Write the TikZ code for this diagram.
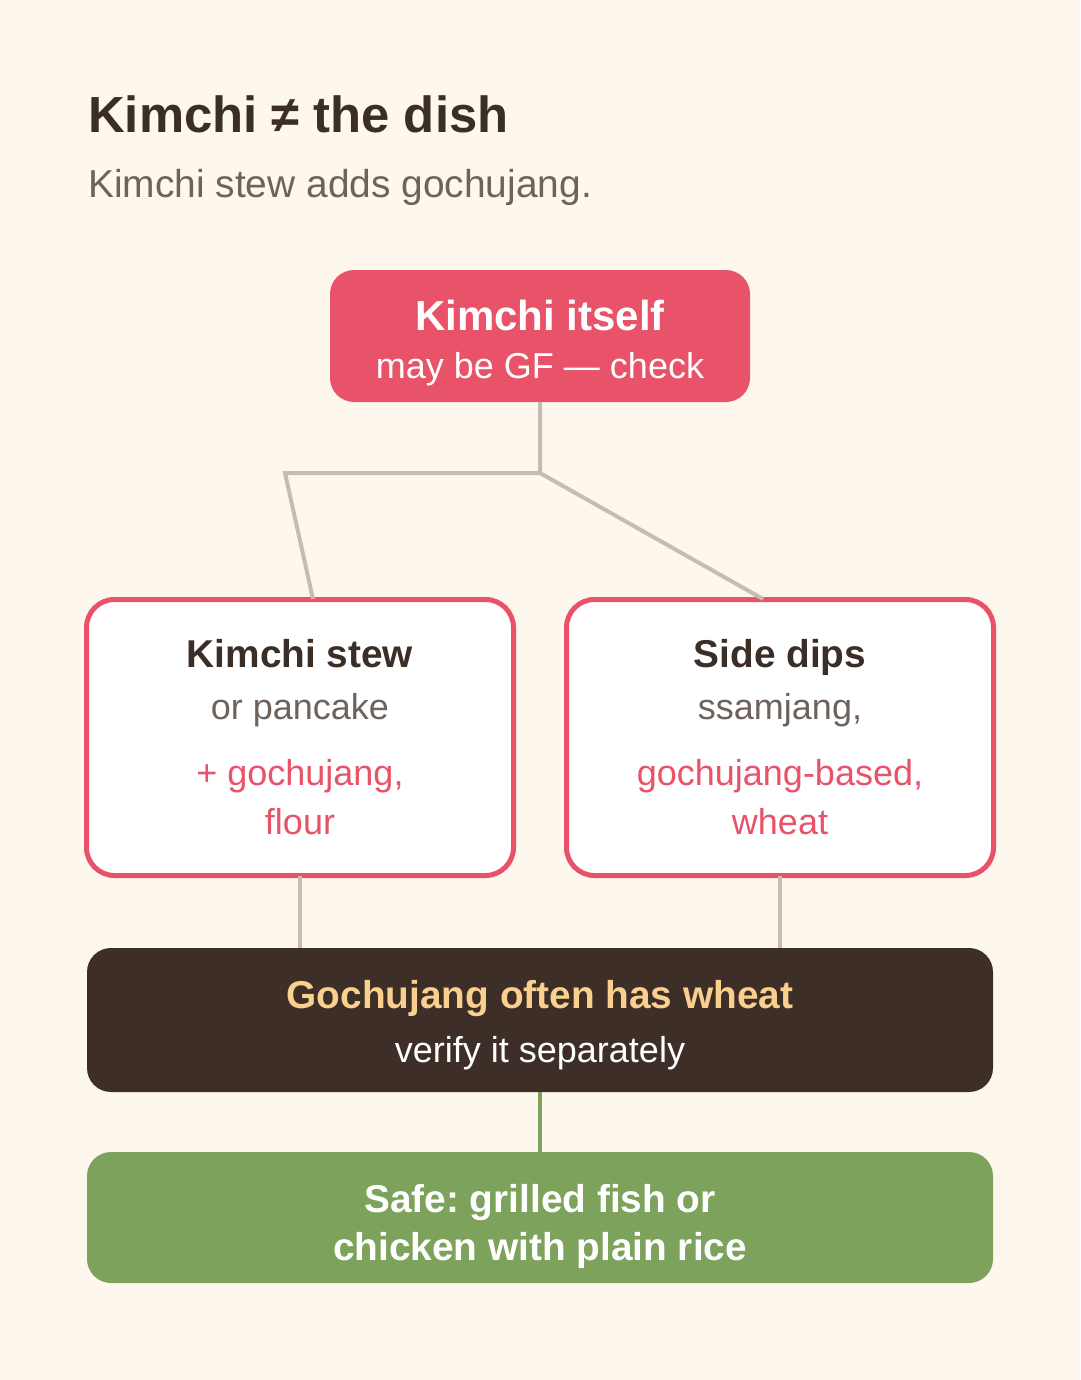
\documentclass[tikz,border=0pt]{standalone}
\usepackage{fontspec}
\setmainfont{Liberation Sans}
\frenchspacing
\definecolor{bg}{HTML}{FDF7EE}
\definecolor{ink}{HTML}{3B2E26}
\definecolor{subtext}{HTML}{6E625A}
\definecolor{rose}{HTML}{E8536A}
\definecolor{wire}{HTML}{C9BCAE}
\definecolor{darkbox}{HTML}{3D2F28}
\definecolor{gold}{HTML}{FAD08E}
\definecolor{leaf}{HTML}{7CA25C}
\newcommand{\fsz}[1]{\fontsize{#1}{#1}\selectfont}
\tikzset{
  solidbox/.style={rectangle, rounded corners=24pt, inner sep=0pt, outer sep=0pt},
  framebox/.style={rectangle, rounded corners=28pt, inner sep=0pt, outer sep=0pt,
     draw=rose, line width=5pt, fill=white, minimum width=427pt, minimum height=276pt},
  txt/.style={anchor=base, inner sep=0pt},
  wireline/.style={draw=wire, line width=4pt},
}
\begin{document}
\begin{tikzpicture}[x=1pt,y=-1pt]
\fill[bg] (0,0) rectangle (1080,1380);
\useasboundingbox (0,0) rectangle (1080,1380);

% title
\node[anchor=base west, inner sep=0pt, text=ink, font=\bfseries\fsz{50.8}] (title) at (88,133) {Kimchi ≠ the dish};
\node[anchor=base west, inner sep=0pt, text=subtext, font=\fsz{38.9}] (subtitle) at (88,198) {Kimchi stew adds gochujang.};

% boxes
\node[solidbox, fill=rose, minimum width=420pt, minimum height=132pt] (top) at (540,336) {};
\node[framebox] (left) at (300,737.5) {};
\node[framebox] (right) at (780,737.5) {};
\node[solidbox, fill=darkbox, minimum width=906pt, minimum height=144pt] (warn) at (540,1020) {};
\node[solidbox, fill=leaf, minimum width=906pt, minimum height=131pt] (safe) at (540,1217.5) {};

% connectors
\coordinate (joint) at (540,473);
\coordinate (bend) at (285,473);
\coordinate (lefttop) at (313,599);
\coordinate (righttop) at (763,599);
\draw[wireline] (top.south) -- (joint) -- (bend) -- (lefttop);
\draw[wireline] (joint) -- (righttop);
\draw[wireline] (left.south) -- (left.south |- warn.north);
\draw[wireline] (right.south) -- (right.south |- warn.north);
\draw[draw=leaf, line width=4pt] (warn.south) -- (safe.north);

% texts
\node[txt, text=white, font=\bfseries\fsz{42}] (t1) at (540,330) {Kimchi itself};
\node[txt, text=white, font=\fsz{36}] (t2) at (540,378) {may be GF — check};

\node[txt, text=ink, font=\bfseries\fsz{38.8}] (l1) at (300,667) {Kimchi stew};
\node[txt, text=subtext, font=\fsz{36}] (l2) at (300,719) {or pancake};
\node[txt, text=rose, font=\fsz{36}] (l3) at (300,785) {+ gochujang,};
\node[txt, text=rose, font=\fsz{36}] (l4) at (300,834) {flour};

\node[txt, text=ink, font=\bfseries\fsz{38.8}] (r1) at (780,667) {Side dips};
\node[txt, text=subtext, font=\fsz{36}] (r2) at (780,719) {ssamjang,};
\node[txt, text=rose, font=\fsz{36}] (r3) at (780,785) {gochujang-based,};
\node[txt, text=rose, font=\fsz{36}] (r4) at (780,834) {wheat};

\node[txt, text=gold, font=\bfseries\fsz{38.8}] (w1) at (540,1008) {Gochujang often has wheat};
\node[txt, text=white, font=\fsz{36}] (w2) at (540,1062) {verify it separately};

\node[txt, text=white, font=\bfseries\fsz{38.8}] (s1) at (540,1212) {Safe: grilled fish or};
\node[txt, text=white, font=\bfseries\fsz{38.8}] (s2) at (540,1260) {chicken with plain rice};
\end{tikzpicture}
\end{document}
